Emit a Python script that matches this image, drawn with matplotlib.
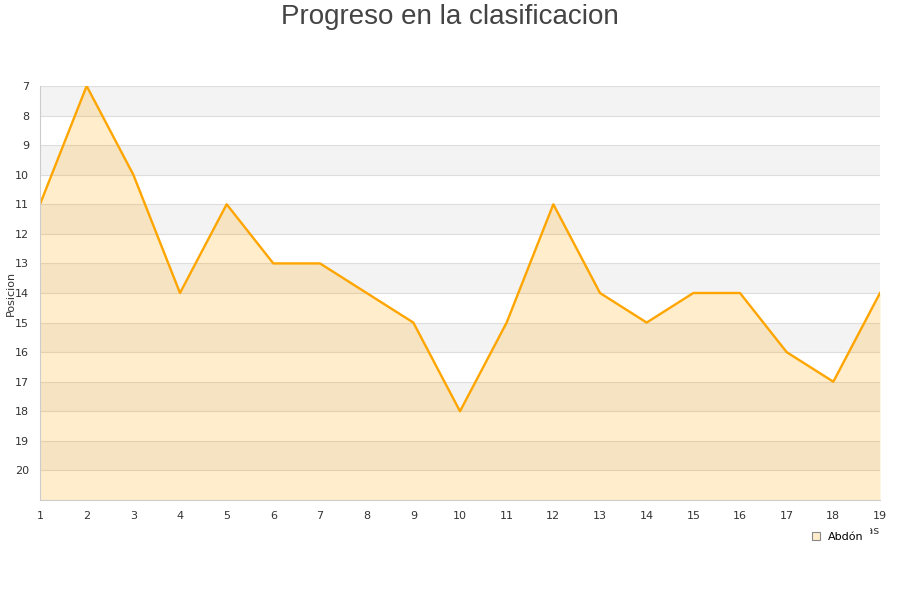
import matplotlib
matplotlib.use("Agg")
import matplotlib.pyplot as plt
from matplotlib.lines import Line2D

jornadas = list(range(1, 20))
posiciones = [11, 7, 10, 14, 11, 13, 13, 14, 15, 18, 15, 11, 14, 15, 14, 14, 16, 17, 14]
serie = "Abdón"
yticks = list(range(7, 21))

fig = plt.figure(figsize=(9, 6), dpi=100)
ax = fig.add_axes([40/900, 100/600, 840/900, 414/600])

ymin, ymax = 7, 21
# alternating bands
for k in range(ymin, ymax):
    if (k - ymin) % 2 == 0:
        ax.axhspan(k, k + 1, color="#f3f3f3", zorder=0, lw=0)
for k in range(ymin, ymax + 1):
    ax.axhline(k, color="#dddddd", lw=0.8, zorder=0.5)

ax.fill_between(jornadas, posiciones, ymax, color="#ffa500", alpha=0.2, lw=0, zorder=1)
ax.plot(jornadas, posiciones, color="#ffa500", lw=1.7, zorder=2)

ax.set_xlim(1, 19)
ax.set_ylim(ymax, ymin)
ax.set_xticks(jornadas)
ax.set_yticks(yticks)
ax.tick_params(axis="both", length=0, labelsize=8, colors="#333333", pad=8)
for s in ["top", "right"]:
    ax.spines[s].set_visible(False)
for s in ["left", "bottom"]:
    ax.spines[s].set_color("#cccccc")
ax.set_ylabel("Posicion", fontsize=8, color="#333333", labelpad=-1)

fig.text(880/900, 1 - 531/600, "Jornadas", ha="right", va="center", fontsize=8, color="#333333")
fig.text(0.5, 1 - 17/600, "Progreso en la clasificacion", ha="center", va="center",
         fontsize=20, color="#444444", family=["Liberation Sans", "DejaVu Sans"])

handle = Line2D([], [], marker="s", ls="none", markersize=6,
                markerfacecolor="#ffedcc", markeredgecolor="#888888", markeredgewidth=0.8)
leg = fig.legend([handle], [serie], loc="center", bbox_to_anchor=(837/900, 1 - 537/600),
                 frameon=True, fontsize=8, handletextpad=0.5, borderpad=0.5,
                 handlelength=1.0, borderaxespad=0, fancybox=False)
leg.get_frame().set_facecolor("white")
leg.get_frame().set_edgecolor("white")
leg.get_frame().set_alpha(1)
leg.set_zorder(10)

fig.savefig("out.png", dpi=100)
